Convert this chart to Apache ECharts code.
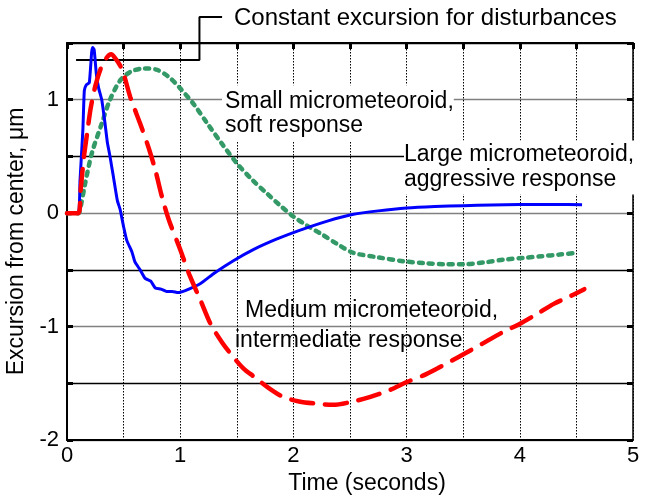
<!DOCTYPE html>
<html>
<head>
<meta charset="utf-8">
<script src="https://cdn.jsdelivr.net/npm/echarts@6/dist/echarts.min.js"></script>
<style>
  html, body { margin: 0; padding: 0; background: #fff; }
  #chart { width: 645px; height: 499px; }
</style>
</head>
<body>
<div id="chart"></div>
<script>
// ---- Data ----
// Large micrometeoroid, aggressive response (blue, solid)
const largeT = [0, 0.10, 0.115, 0.14, 0.153, 0.17, 0.197, 0.218, 0.228, 0.24, 0.26, 0.28, 0.307, 0.336, 0.357, 0.38, 0.41, 0.445, 0.47, 0.50, 0.528, 0.573, 0.60, 0.646, 0.69, 0.74, 0.78, 0.83, 0.88, 0.93, 0.98, 1.05, 1.18, 1.30, 1.47, 1.65, 1.85, 2.06, 2.30, 2.53, 2.75, 3.00, 3.25, 3.50, 3.75, 4.00, 4.30, 4.55];
const largeY = [0, 0, 0.29, 0.73, 1.08, 1.13, 1.15, 1.42, 1.46, 1.44, 1.22, 1.10, 1.00, 0.79, 0.62, 0.50, 0.32, 0.11, 0.03, -0.12, -0.24, -0.34, -0.43, -0.50, -0.575, -0.60, -0.66, -0.67, -0.69, -0.69, -0.70, -0.68, -0.62, -0.53, -0.42, -0.32, -0.23, -0.15, -0.07, -0.01, 0.02, 0.045, 0.058, 0.066, 0.072, 0.077, 0.077, 0.074];

// Medium micrometeoroid, intermediate response (red, dashed)
const mediumT = [0, 0.10, 0.12, 0.15, 0.18, 0.21, 0.25, 0.30, 0.35, 0.39, 0.43, 0.47, 0.50, 0.56, 0.646, 0.72, 0.78, 0.84, 0.90, 1.00, 1.08, 1.18, 1.27, 1.37, 1.47, 1.56, 1.65, 1.78, 1.91, 2.05, 2.21, 2.35, 2.53, 2.68, 2.85, 3.00, 3.15, 3.27, 3.40, 3.51, 3.67, 3.83, 4.01, 4.15, 4.30, 4.45, 4.57];
const mediumY = [0, 0, 0.20, 0.50, 0.72, 0.93, 1.12, 1.28, 1.37, 1.40, 1.36, 1.30, 1.23, 1.02, 0.79, 0.58, 0.38, 0.14, -0.06, -0.32, -0.54, -0.77, -0.98, -1.14, -1.27, -1.37, -1.44, -1.54, -1.62, -1.66, -1.68, -1.69, -1.66, -1.62, -1.56, -1.49, -1.43, -1.37, -1.30, -1.24, -1.15, -1.06, -0.97, -0.89, -0.80, -0.73, -0.67];

// Small micrometeoroid, soft response (green, dotted)
const smallT = [0, 0.10, 0.115, 0.16, 0.22, 0.307, 0.38, 0.47, 0.56, 0.675, 0.79, 0.90, 1.00, 1.12, 1.24, 1.37, 1.50, 1.64, 1.77, 1.88, 2.00, 2.12, 2.24, 2.40, 2.53, 2.75, 2.98, 3.15, 3.33, 3.50, 3.68, 3.86, 4.03, 4.19, 4.35, 4.50];
const smallY = [0, 0, 0.03, 0.26, 0.53, 0.79, 1.00, 1.17, 1.245, 1.275, 1.265, 1.20, 1.10, 0.96, 0.79, 0.61, 0.44, 0.29, 0.17, 0.07, -0.03, -0.11, -0.18, -0.28, -0.35, -0.39, -0.425, -0.44, -0.45, -0.45, -0.435, -0.41, -0.395, -0.38, -0.365, -0.35];

// Bracket for "Constant excursion for disturbances"
const bracketT = [1.37, 1.17, 1.17, 0.08];
const bracketY = [1.73, 1.73, 1.35, 1.35];

// Axis ranges / ticks
const xMin = 0, xMax = 5, xStep = 0.5;
const yMin = -2, yMax = 1.5, yStep = 0.5;

// Texts
const xName = 'Time (seconds)';
const yName = 'Excursion from center, \u03bcm';
const noteConstant = 'Constant excursion for disturbances';
const noteSmall = 'Small micrometeoroid,\nsoft response';
const noteLarge = 'Large micrometeoroid,\naggressive response';
const noteMedium1 = 'Medium micrometeoroid,';
const noteMedium2 = 'intermediate response';

const zip = (a, b) => a.map((v, i) => [v, b[i]]);
const FONT = "'Liberation Sans', Arial, sans-serif";
const intOnly = v => (Math.abs(v - Math.round(v)) < 1e-9 ? String(Math.round(v)) : '');

const chart = echarts.init(document.getElementById('chart'), null, { renderer: 'canvas' });

const option = {
  animation: false,
  backgroundColor: '#ffffff',
  textStyle: { fontFamily: FONT },
  grid: { left: 67, right: 12, top: 43, bottom: 59, containLabel: false, outerBoundsMode: 'none' },
  xAxis: [
    {
      type: 'value', position: 'bottom', min: xMin, max: xMax, interval: xStep,
      name: xName, nameLocation: 'middle', nameGap: 30,
      nameTextStyle: { fontFamily: FONT, fontSize: 23, color: '#000', padding: [0, 0, 0, 34] },
      axisLine: { show: true, onZero: false, lineStyle: { color: '#000', width: 2 } },
      axisTick: { show: false },
      axisLabel: { formatter: intOnly, fontFamily: FONT, fontSize: 22, color: '#000', margin: 5 },
      splitLine: { show: true, lineStyle: { color: '#000', width: 1, type: [1.5, 1.5] } }
    },
    {
      type: 'value', position: 'top', min: xMin, max: xMax, interval: xStep,
      axisLine: { show: true, onZero: false, lineStyle: { color: '#000', width: 2 } },
      axisTick: { show: true, inside: true, length: 6, lineStyle: { color: '#000', width: 3 } },
      axisLabel: { show: false },
      splitLine: { show: false }
    }
  ],
  yAxis: [
    {
      type: 'value', position: 'left', min: yMin, max: yMax, interval: yStep,
      name: yName, nameLocation: 'middle', nameGap: 36,
      nameTextStyle: { fontFamily: FONT, fontSize: 23, color: '#000' },
      axisLine: { show: true, onZero: false, lineStyle: { color: '#000', width: 2 } },
      axisTick: { show: true, inside: true, length: 6, lineStyle: { color: '#000', width: 3 } },
      axisLabel: { formatter: intOnly, fontFamily: FONT, fontSize: 22, color: '#000', margin: 8 },
      splitLine: { show: true, lineStyle: { color: ['#808080', '#000000'], width: 1.3 } }
    },
    {
      type: 'value', position: 'right', min: yMin, max: yMax, interval: yStep,
      axisLine: { show: true, onZero: false, lineStyle: { color: '#000', width: 1.5 } },
      axisTick: { show: true, inside: true, length: 6, lineStyle: { color: '#000', width: 3 } },
      axisLabel: { show: false },
      splitLine: { show: false }
    }
  ],
  series: [
    {
      name: 'bracket', type: 'line', xAxisIndex: 0, yAxisIndex: 0,
      data: zip(bracketT, bracketY), clip: false, showSymbol: false, symbol: 'none',
      lineStyle: { color: '#000', width: 2 }, silent: true, z: 3
    },
    {
      name: 'Small micrometeoroid, soft response', type: 'line', xAxisIndex: 0, yAxisIndex: 0,
      data: zip(smallT, smallY), symbol: 'none', smooth: 0.3,
      lineStyle: { color: '#339966', width: 4.5, type: [4, 6], cap: 'round' }, z: 4
    },
    {
      name: 'Large micrometeoroid, aggressive response', type: 'line', xAxisIndex: 0, yAxisIndex: 0,
      data: zip(largeT, largeY), symbol: 'none', smooth: 0.15,
      lineStyle: { color: '#0000ff', width: 3 }, z: 5
    },
    {
      name: 'Medium micrometeoroid, intermediate response', type: 'line', xAxisIndex: 0, yAxisIndex: 0,
      data: zip(mediumT, mediumY), symbol: 'none', smooth: 0.3,
      lineStyle: { color: '#ff0000', width: 4.5, type: [22, 12], cap: 'round' }, z: 6
    }
  ],
  graphic: [
    {
      type: 'text', x: 234, y: 18, z: 10,
      style: { text: noteConstant, font: "24px 'Liberation Sans', Arial, sans-serif", fill: '#000', align: 'left', verticalAlign: 'middle' }
    },
    {
      type: 'text', x: 222, y: 85.3, z: 1,
      style: { text: noteSmall, font: "23px 'Liberation Sans', Arial, sans-serif", fill: '#000', align: 'left', verticalAlign: 'top', lineHeight: 24, backgroundColor: '#fff', padding: [4, 0, 4, 3] }
    },
    {
      type: 'text', x: 404, y: 140.5, z: 1,
      style: { text: noteLarge, font: "23px 'Liberation Sans', Arial, sans-serif", fill: '#000', align: 'left', verticalAlign: 'top', lineHeight: 25, backgroundColor: '#fff', padding: [2, 2, 2, 0] }
    },
    {
      type: 'text', x: 245, y: 310.3, z: 1,
      style: { text: noteMedium1, font: "23px 'Liberation Sans', Arial, sans-serif", fill: '#000', align: 'left', verticalAlign: 'middle' }
    },
    {
      type: 'text', x: 235, y: 340.3, z: 1,
      style: { text: noteMedium2, font: "23px 'Liberation Sans', Arial, sans-serif", fill: '#000', align: 'left', verticalAlign: 'middle' }
    }
  ]
};

chart.setOption(option);
</script>
</body>
</html>
